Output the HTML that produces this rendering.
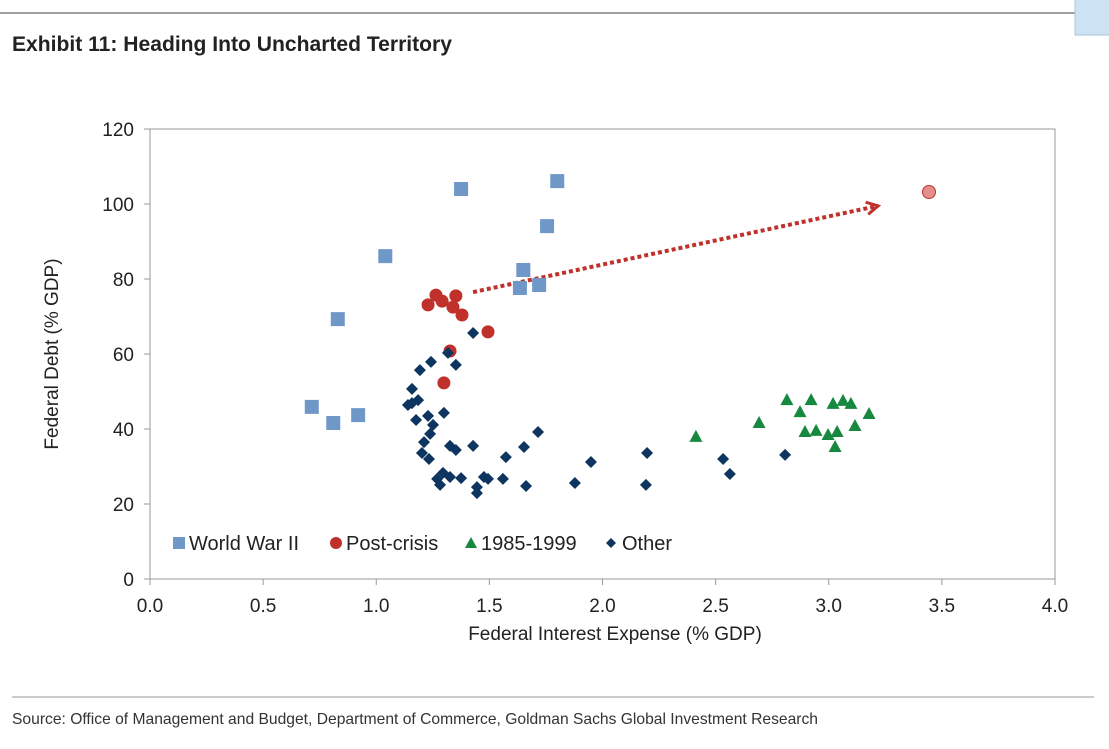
<!DOCTYPE html>
<html><head><meta charset="utf-8"><style>
body{margin:0;background:#fff;}
svg text{font-family:"Liberation Sans",sans-serif;}
</style></head><body>
<svg width="1109" height="744" xmlns="http://www.w3.org/2000/svg" id="chart">
<line x1="0" y1="13" x2="1090" y2="13" stroke="#808080" stroke-width="1.5"/>
<rect x="1075" y="-2" width="40" height="37" fill="#cde3f3" stroke="#a9c5da"/>
<text x="12" y="51" font-family="Liberation Sans Narrow" font-weight="bold" font-size="21" fill="#222" style="font-family:'Liberation Sans Narrow','Liberation Sans',sans-serif" textLength="440" lengthAdjust="spacingAndGlyphs">Exhibit 11: Heading Into Uncharted Territory</text>
<rect x="150" y="129" width="905" height="450" fill="none" stroke="#999" stroke-width="1"/>
<g id="axes"></g>
<g id="marks"></g>
<text x="615" y="640" text-anchor="middle" font-size="19" fill="#222">Federal Interest Expense (% GDP)</text>
<text transform="translate(58,354) rotate(-90)" text-anchor="middle" font-size="19" fill="#222">Federal  Debt (% GDP)</text>
<g>
<g><rect x="173" y="537" width="12" height="12" fill="#6f97c8"/><text x="189" y="550" font-size="20" fill="#222">World War II</text></g>
<g><circle cx="336" cy="543" r="6" fill="#c0312b"/><text x="346" y="550" font-size="20" fill="#222">Post-crisis</text></g>
<g><polygon points="471,537 477,548 465,548" fill="#17883f"/><text x="481" y="550" font-size="20" fill="#222">1985-1999</text></g>
<g><polygon points="611,538 616,543 611,548 606,543" fill="#0d3560"/><text x="622" y="550" font-size="20" fill="#222">Other</text></g>
</g>
<line x1="12" y1="697" x2="1094" y2="697" stroke="#999" stroke-width="1"/>
<text x="12" y="724" font-size="16" fill="#333" style="font-family:'Liberation Sans Narrow','Liberation Sans',sans-serif" textLength="806" lengthAdjust="spacingAndGlyphs">Source: Office of Management and Budget, Department of Commerce, Goldman Sachs Global Investment Research</text>
</svg>
<script>
const xTicks=[0,0.5,1,1.5,2,2.5,3,3.5,4];
const yTicks=[0,20,40,60,80,100,120];
const wwX=[1.375,1.80,1.755,1.04,1.65,1.635,1.72,0.83,0.715,0.81,0.92];
const wwY=[104,106.1,94.1,86.1,82.4,77.6,78.4,69.3,45.9,41.6,43.7];
const pcX=[1.229,1.264,1.291,1.352,1.339,1.379,1.494,1.326,1.299,3.443];
const pcY=[73.1,75.7,74.1,75.5,72.5,70.4,65.9,60.8,52.3,103.2];
const mdX=[2.413,2.692,2.815,2.873,2.922,2.895,2.944,2.997,3.019,3.037,3.063,3.028,3.098,3.116,3.178];
const mdY=[37.9,41.6,47.7,44.5,47.7,39.2,39.5,38.4,46.7,39.2,47.5,35.2,46.7,40.8,44];
const otX=[1.428,1.242,1.193,1.352,1.317,1.158,1.185,1.140,1.158,1.176,1.229,1.299,1.251,1.238,1.211,1.202,1.233,1.326,1.352,1.428,1.715,1.653,1.573,1.295,1.269,1.282,1.326,1.375,1.445,1.445,1.476,1.494,1.560,1.662,1.878,1.949,2.197,2.192,2.533,2.563,2.807];
const otY=[65.6,57.9,55.7,57.1,60.3,50.7,47.7,46.4,46.9,42.4,43.5,44.3,41.1,38.7,36.5,33.6,32,35.5,34.4,35.5,39.2,35.2,32.5,28.3,26.7,25.1,27.2,26.9,24.5,22.9,27.2,26.7,26.7,24.8,25.6,31.2,33.6,25.1,32,28,33.1];
const arrowX=[1.428,3.218];
const arrowY=[76.5,99.5];
const NS="http://www.w3.org/2000/svg";
const sx=v=>150+v*226.25, sy=v=>579-v*3.75;
const axes=document.getElementById('axes'), marks=document.getElementById('marks');
function mk(tag,attrs,parent){const e=document.createElementNS(NS,tag);for(const k in attrs)e.setAttribute(k,attrs[k]);parent.appendChild(e);return e;}
xTicks.forEach(t=>{
 const l=mk('line',{x1:sx(t),x2:sx(t),y1:579,y2:585,stroke:'#999'},axes);
 
 
 const tx=mk('text',{x:sx(t),y:612,'text-anchor':'middle','font-size':19,fill:'#222'},axes);tx.textContent=t.toFixed(1);
 
 
});
yTicks.forEach(t=>{
 const l=mk('line',{x1:144,x2:150,y1:sy(t),y2:sy(t),stroke:'#999'},axes);
 
 
 const tx=mk('text',{x:134,y:sy(t)+7,'text-anchor':'end','font-size':19,fill:'#222'},axes);tx.textContent=t;
 
 
});
const ar=mk('line',{x1:sx(arrowX[0]),y1:sy(arrowY[0]),x2:sx(arrowX[1]),y2:sy(arrowY[1]),stroke:'#c0312b','stroke-width':4,'stroke-dasharray':'4 3'},marks);


{const x2=sx(arrowX[1]),y2=sy(arrowY[1]),x1=sx(arrowX[0]),y1=sy(arrowY[0]);const a=Math.atan2(y2-y1,x2-x1);
 const h=mk('polyline',{points:`${x2-13*Math.cos(a-0.5)},${y2-13*Math.sin(a-0.5)} ${x2},${y2} ${x2-13*Math.cos(a+0.5)},${y2-13*Math.sin(a+0.5)}`,fill:'none',stroke:'#c0312b','stroke-width':3},marks);
 
 }
wwX.forEach((v,i)=>{const e=mk('rect',{x:sx(v)-7,y:sy(wwY[i])-7,width:14,height:14,fill:'#6f97c8'},marks);
 
 });
pcX.forEach((v,i)=>{const last=i===pcX.length-1;const e=mk('circle',{cx:sx(v),cy:sy(pcY[i]),r:6.5,fill:last?'#e38f8c':'#c0312b',stroke:last?'#c0312b':'none','stroke-width':1},marks);
 
 });
mdX.forEach((v,i)=>{const x=sx(v),y=sy(mdY[i]);const e=mk('polygon',{points:`${x},${y-7} ${x+6.5},${y+5} ${x-6.5},${y+5}`,fill:'#17883f'},marks);
 
 });
otX.forEach((v,i)=>{const x=sx(v),y=sy(otY[i]);const e=mk('polygon',{points:`${x},${y-6} ${x+6},${y} ${x},${y+6} ${x-6},${y}`,fill:'#0d3560'},marks);
 
 });
</script>
</body></html>
